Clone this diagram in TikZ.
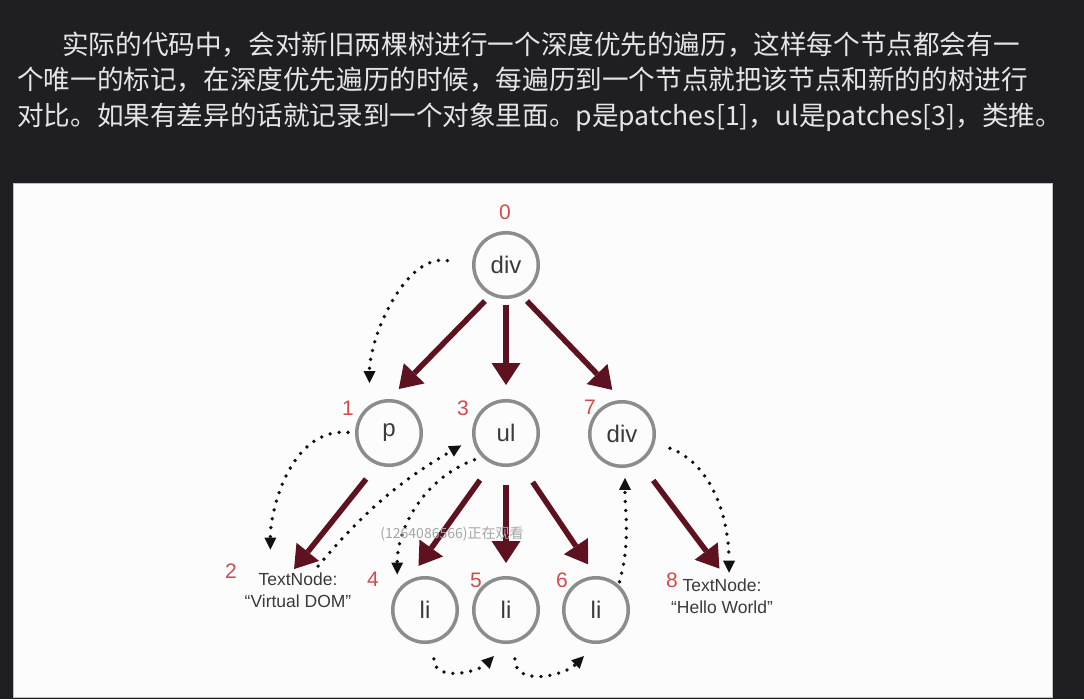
\documentclass[tikz,border=0pt]{standalone}
\usepackage{fontspec}
\setmainfont{Liberation Sans}
\newfontfamily\cjk{Noto Sans CJK SC}
\usepackage{xcolor}
\definecolor{bgdark}{HTML}{1F1E22}
\definecolor{panel}{HTML}{FDFCFD}
\definecolor{ring}{HTML}{8C8C8C}
\definecolor{maroon}{HTML}{5E1220}
\definecolor{numred}{HTML}{D24B4B}
\definecolor{nodetext}{HTML}{3A3A3A}
\definecolor{dotc}{HTML}{111111}
\usepackage{tikz}
\usetikzlibrary{arrows.meta,positioning}

\begin{document}
\begin{tikzpicture}[
  x=1pt,y=1pt,
  vnode/.style={circle,draw=ring,line width=3.5pt,minimum size=64.5pt,inner sep=0pt,text=nodetext,font=\fontsize{24}{26}\selectfont},
  num/.style={inner sep=0pt,text=numred,font=\fontsize{21}{24}\selectfont},
  tnode/.style={align=center,inner sep=2pt,text=nodetext,font=\fontsize{17.5}{21.5}\selectfont},
  intro/.style={anchor=west,inner sep=0pt,text=white!90!black,font=\cjk\fontsize{26.6}{30}\selectfont},
  diff/.style={-{Triangle[length=22pt,width=29pt,line width=0pt]},draw=maroon,line width=5.5pt},
  walk/.style={-{Triangle[length=12pt,width=12pt,line width=0pt]},draw=dotc,line width=3.8pt,dash pattern=on 0pt off 9pt,line cap=round}
]
\fill[bgdark] (0,0) rectangle (1084,-699);
\useasboundingbox (0,0) rectangle (1084,-699);
\fill[panel,draw=black!25,line width=1pt] (13,-183) rectangle (1052,-697);

\node[intro] (line1) at (62,-45) {实际的代码中，会对新旧两棵树进行一个深度优先的遍历，这样每个节点都会有一};
\node[intro] (line2) at (17,-80) {个唯一的标记，在深度优先遍历的时候，每遍历到一个节点就把该节点和新的的树进行};
\node[intro] (line3) at (17,-117) {对比。如果有差异的话就记录到一个对象里面。p是patches[1]，ul是patches[3]，类推。};

\node[vnode] (div0) at (506,-265) {div};
\node[vnode] (p) at (389,-433) {p};
\node[vnode] (ul) at (506,-433) {ul};
\node[vnode] (div7) at (622,-434) {div};
\node[vnode] (li4) at (425,-610) {li};
\node[vnode] (li5) at (506,-610) {li};
\node[vnode] (li6) at (596,-610) {li};
\node[tnode] (text2) at (298,-590) {TextNode:\\“Virtual DOM”};
\node[tnode] (text8) at (722,-596) {TextNode:\\“Hello World”};

\node[num] (n0) at (505,-212) {0};
\node[num] (n1) at (348,-408) {1};
\node[num] (n3) at (463,-408) {3};
\node[num] (n7) at (590,-407) {7};
\node[num] (n2) at (231,-571) {2};
\node[num] (n4) at (373,-579) {4};
\node[num] (n5) at (476,-580) {5};
\node[num] (n6) at (562,-580) {6};
\node[num] (n8) at (672,-580) {8};

\draw[diff,shorten <=8pt,shorten >=14pt] (div0.243) -- (p.north);
\draw[diff,shorten <=6pt,shorten >=14pt] (div0) -- (ul);
\draw[diff,shorten <=8pt,shorten >=14pt] (div0.297) -- (div7.north);
\draw[diff,shorten <=18pt,shorten >=2pt] (p.250) -- (text2.105);
\draw[diff,shorten <=20pt,shorten >=18pt] (ul.245) -- (li4.120);
\draw[diff,shorten <=18pt,shorten >=13pt] (ul) -- (li5);
\draw[diff,shorten <=22pt,shorten >=14pt] (ul.295) -- (li6.north);
\draw[diff,shorten <=22pt,shorten >=10pt] (div7.302) -- (text8.80);

\draw[walk,shorten <=25pt,shorten >=22pt] (div0.west) to[out=170,in=90] (p.125);
\draw[walk,shorten <=7pt,shorten >=21pt] (p.west) to[out=175,in=90] (text2.145);
\draw[walk,shorten <=6pt,shorten >=13pt] (text2.50) to[out=50,in=210] (ul.190);
\draw[walk,shorten <=8pt,shorten >=16pt] (ul.225) to[out=200,in=90] (li4.145);
\draw[walk,shorten <=16pt,shorten >=17pt] (li4.285) to[out=270,in=225,looseness=1.4] (li5.south);
\draw[walk,shorten <=16pt,shorten >=17pt] (li5.285) to[out=270,in=225,looseness=1.4] (li6.south);
\draw[walk,shorten <=3pt,shorten >=10pt] (li6.48) to[out=75,in=270] (div7.275);
\draw[walk,shorten <=16pt,shorten >=4pt] (div7.-15) to[out=-20,in=90] (text8.70);

\node[text=black!35,inner sep=0pt,font=\cjk\fontsize{14}{16}\selectfont] (viewer) at (452,-534) {(1264086566)正在观看};
\end{tikzpicture}
\end{document}
